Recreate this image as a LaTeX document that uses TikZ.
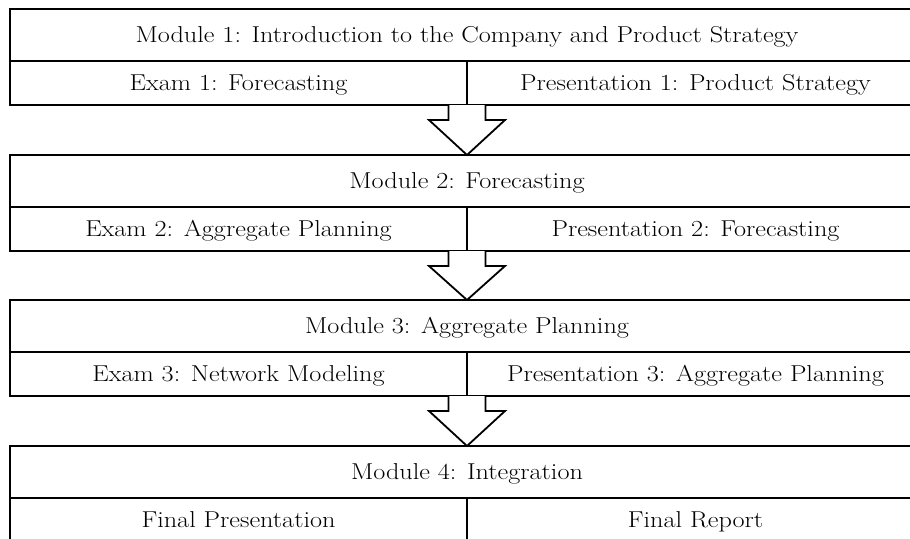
\documentclass[tikz,border=0pt]{standalone}
\usetikzlibrary{calc}
\newcommand{\widetxt}[1]{\scalebox{1.14}[1]{#1}}
\begin{document}
\begin{tikzpicture}[x=1pt,y=1pt,
  cell/.style={draw, line width=1.8pt, outer sep=0pt, inner sep=0pt, anchor=north west,
    text height=15.7pt, text depth=0pt, font=\fontsize{23}{27}\selectfont},
  topcell/.style={cell, minimum width=914pt, minimum height=52pt},
  halfcell/.style={cell, minimum width=457pt, minimum height=44pt},
  blockarrow/.style={draw, line width=1.8pt, fill=white, line join=miter}]
\useasboundingbox (0,0) rectangle (910,-538);
\clip (0,0) rectangle (910,-538);
\foreach \i/\ty/\mt/\et/\pt in {
  1/9/{Module 1: Introduction to the Company and Product Strategy}/{Exam 1: Forecasting}/{Presentation 1: Product Strategy},
  2/155/{Module 2: Forecasting}/{Exam 2: Aggregate Planning}/{Presentation 2: Forecasting},
  3/300/{Module 3: Aggregate Planning}/{Exam 3: Network Modeling}/{Presentation 3: Aggregate Planning},
  4/446/{Module 4: Integration}/{Final Presentation}/{Final Report}} {
  \node[topcell] (m\i) at (10,-\ty) {\widetxt{\mt}};
  \node[halfcell] (e\i) at (m\i.south west) {\widetxt{\et}};
  \node[halfcell] (p\i) at (e\i.north east) {\widetxt{\pt}};
}
\foreach \i/\j in {1/2,2/3,3/4} {
  \coordinate (d\i) at (e\i.south east);
  \coordinate (t\i) at (d\i |- m\j.north);
  \draw[blockarrow] ($(d\i)+(-18.5,0)$) -- ++(0,-15) -- ++(-19.5,0) -- (t\i)
    -- ($(d\i)+(38,-15)$) -- ++(-19.5,0) -- ++(0,15);
}
\end{tikzpicture}
\end{document}
